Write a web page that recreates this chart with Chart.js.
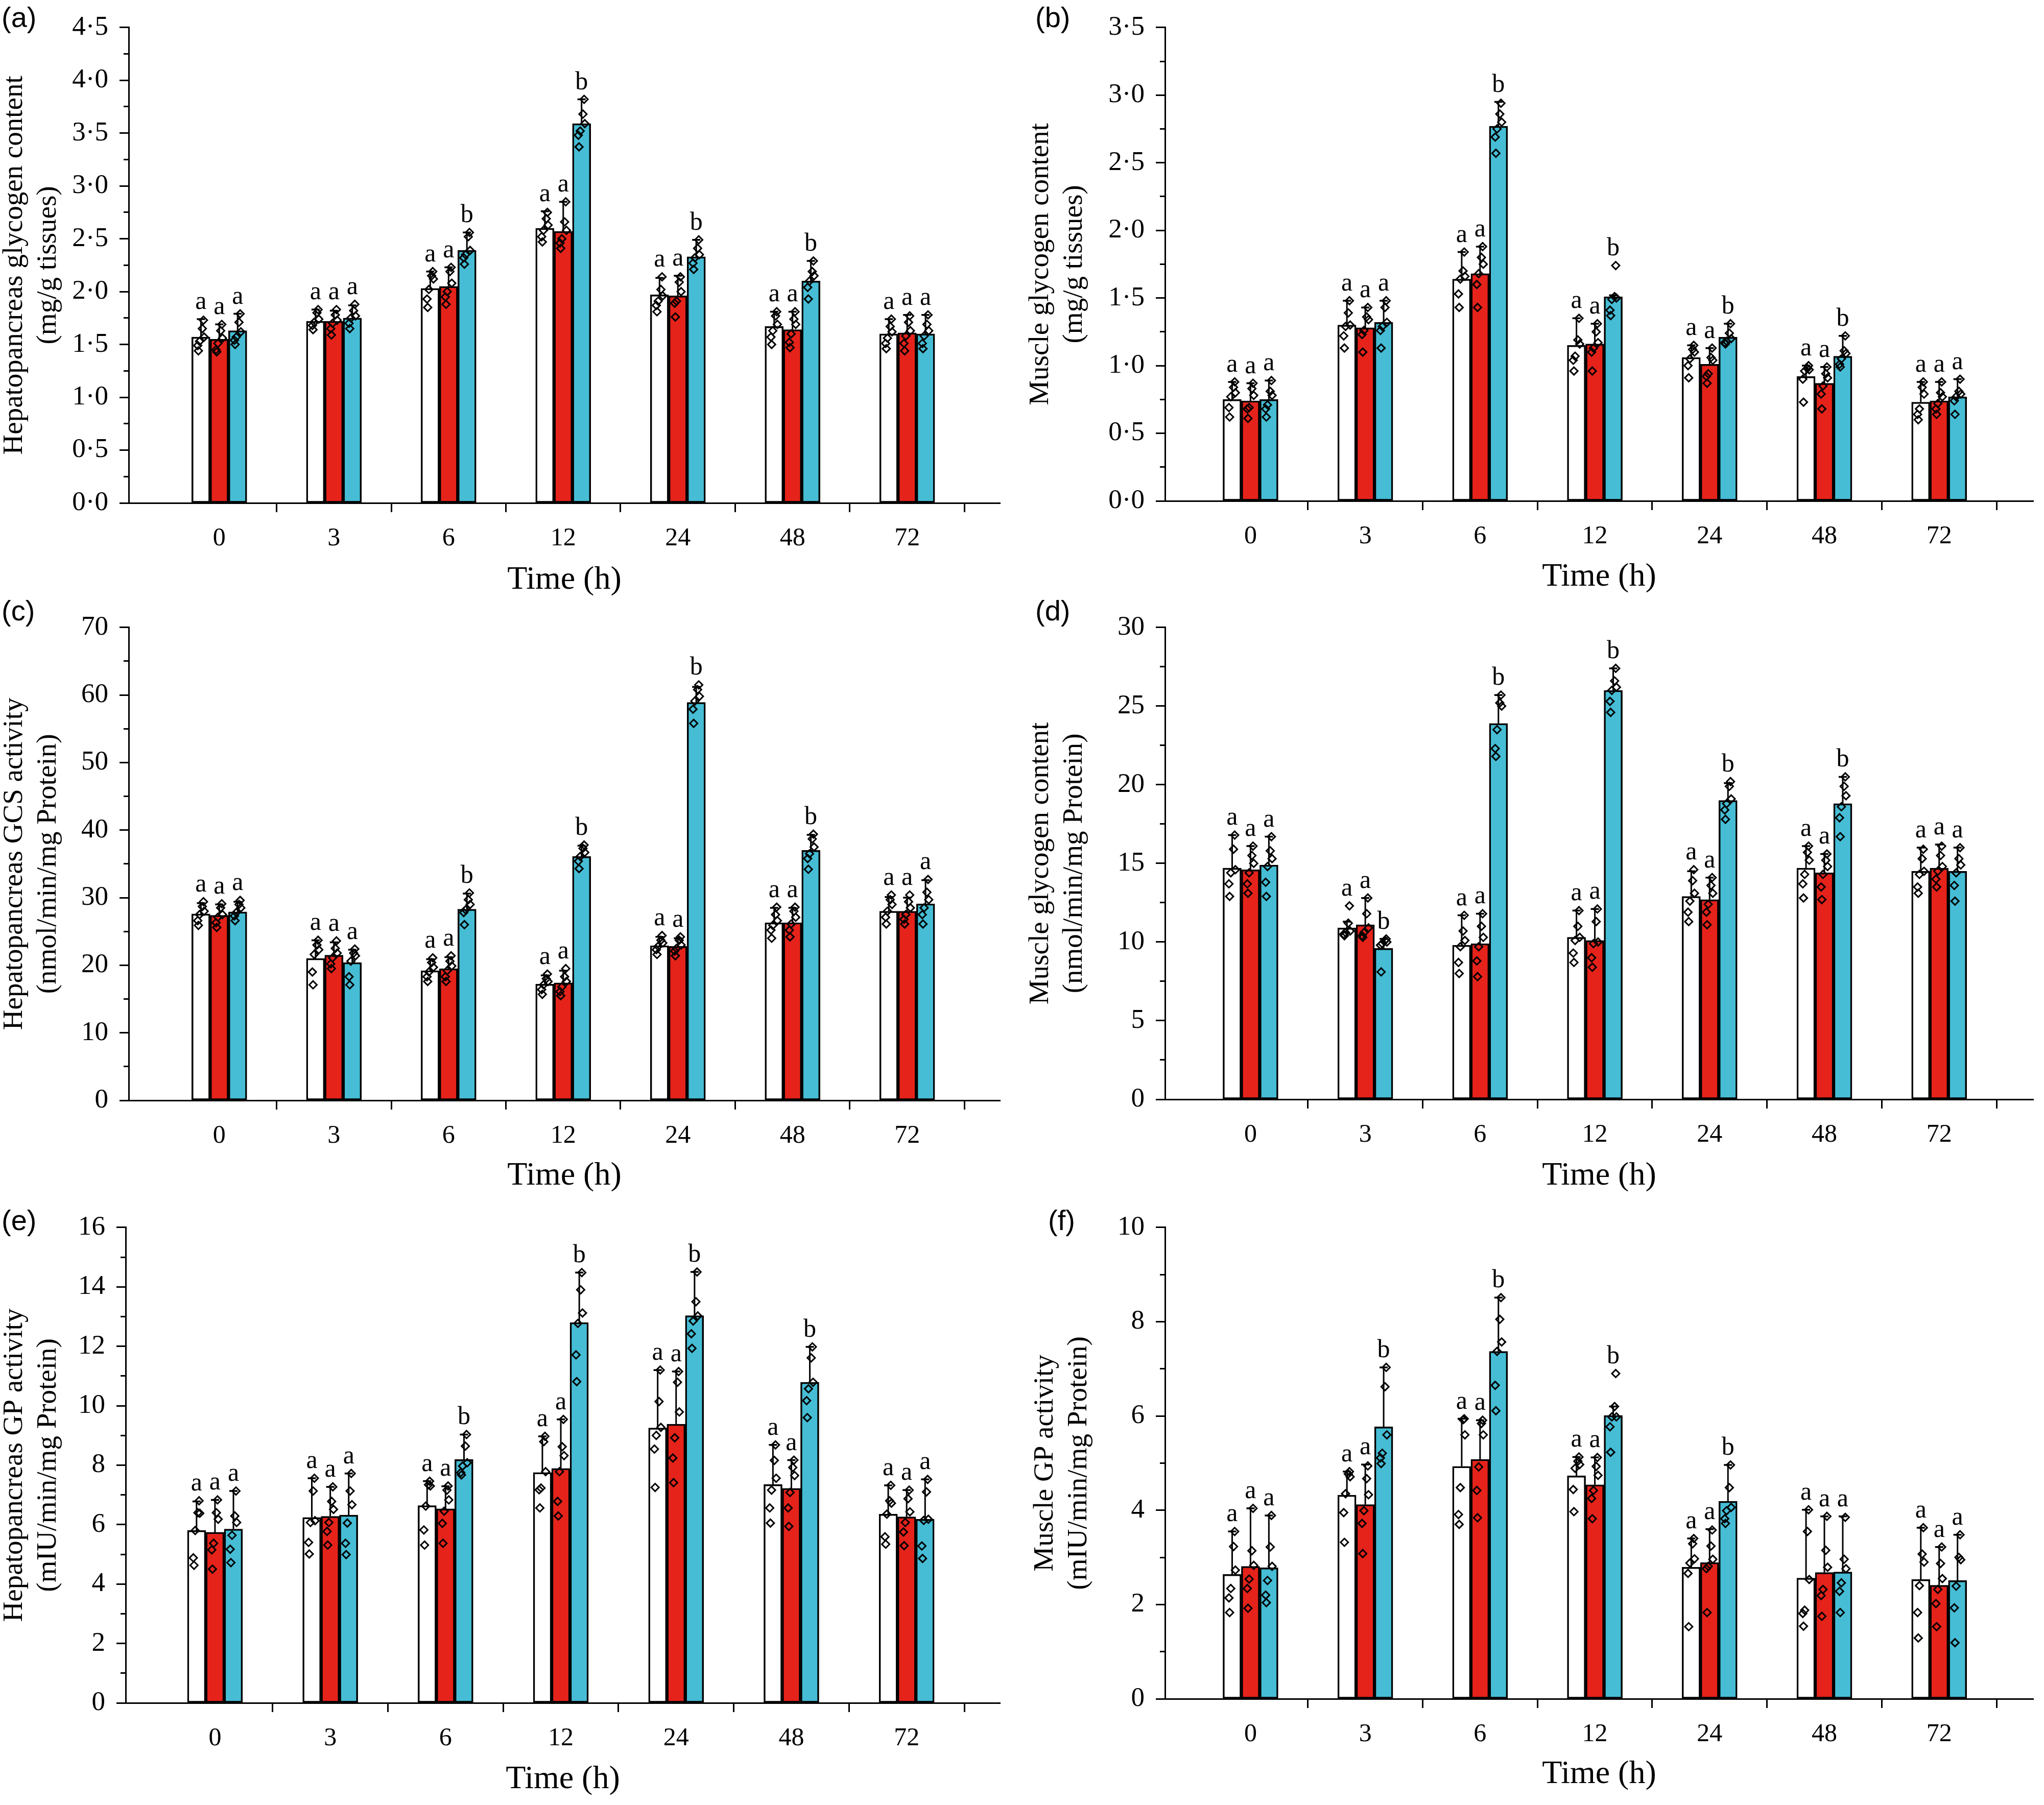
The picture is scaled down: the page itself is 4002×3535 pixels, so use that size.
<!DOCTYPE html>
<html>
<head>
<meta charset="utf-8">
<script src="https://cdn.jsdelivr.net/npm/chart.js@4"></script>
<style>
  body { margin: 0; background: #fff; }
  #wrap { position: relative; width: 4002px; height: 3535px; background: #fff; }
  canvas { position: absolute; }
  .tag { position: absolute; font-family: "Liberation Sans", Arial, sans-serif; font-size: 56px; line-height: 1; color: #000; }
</style>
</head>
<body>
<div id="wrap">
  <canvas id="cA" width="2000" height="1175" style="left:0;top:0"></canvas>
  <canvas id="cB" width="2002" height="1175" style="left:2000px;top:0"></canvas>
  <canvas id="cC" width="2000" height="1175" style="left:0;top:1175px"></canvas>
  <canvas id="cD" width="2002" height="1175" style="left:2000px;top:1175px"></canvas>
  <canvas id="cE" width="2000" height="1185" style="left:0;top:2350px"></canvas>
  <canvas id="cF" width="2002" height="1185" style="left:2000px;top:2350px"></canvas>
  <div class="tag" style="left:3px;top:6px">(a)</div>
  <div class="tag" style="left:2027px;top:6px">(b)</div>
  <div class="tag" style="left:3px;top:1168px">(c)</div>
  <div class="tag" style="left:2027px;top:1168px">(d)</div>
  <div class="tag" style="left:3px;top:2362px">(e)</div>
  <div class="tag" style="left:2052px;top:2362px">(f)</div>
</div>
<script>
const times = ['0', '3', '6', '12', '24', '48', '72'];
const seriesColors = ['#ffffff', '#e5231b', '#46bdd5'];

// (a) hepatopancreas glycogen, mg/g
const aMean = [[1.57, 1.72, 2.03, 2.60, 1.97, 1.67, 1.60],
               [1.55, 1.72, 2.05, 2.57, 1.96, 1.64, 1.61],
               [1.63, 1.75, 2.39, 3.59, 2.33, 2.10, 1.60]];
const aUpper = [[1.74, 1.83, 2.19, 2.76, 2.13, 1.81, 1.74],
                [1.69, 1.82, 2.23, 2.85, 2.15, 1.81, 1.78],
                [1.79, 1.87, 2.56, 3.82, 2.49, 2.29, 1.78]];
const aWhitePts = [[1.73,1.44,1.65,1.49,1.57,1.53],[1.83,1.64,1.80,1.68,1.74,1.71],[2.19,1.85,2.15,1.93,2.12,2.02],
                   [2.75,2.47,2.69,2.52,2.63,2.58],[2.14,1.81,2.02,1.87,1.96,1.91],[1.81,1.50,1.77,1.57,1.69,1.63],[1.74,1.46,1.67,1.51,1.62,1.56]];
const aRedPts = [[1.69,1.43,1.63,1.45,1.56,1.51],[1.83,1.59,1.78,1.65,1.73,1.70],[2.23,1.88,2.19,1.95,2.08,2.00],
                 [2.85,2.41,2.66,2.46,2.58,2.50],[2.14,1.76,2.09,1.89,2.00,1.91],[1.81,1.47,1.74,1.52,1.69,1.60],[1.77,1.44,1.71,1.51,1.63,1.58]];
const aBluePts = [[1.79,1.50,1.71,1.54,1.62,1.57],[1.88,1.65,1.82,1.70,1.77,1.75],[2.56,2.26,2.52,2.32,2.39,2.35],
                  [3.82,3.37,3.68,3.48,3.59,3.52],[2.49,2.21,2.41,2.27,2.35,2.32],[2.29,1.93,2.19,2.04,2.15,2.10],[1.78,1.46,1.69,1.51,1.63,1.58]];
const aLetters = [['a','a','a','a','a','a','a'], ['a','a','a','a','a','a','a'], ['a','a','b','b','b','b','a']];

// (b) muscle glycogen, mg/g
const bMean = [[0.75, 1.30, 1.64, 1.15, 1.06, 0.92, 0.73],
               [0.74, 1.28, 1.68, 1.16, 1.01, 0.87, 0.74],
               [0.75, 1.32, 2.77, 1.51, 1.21, 1.07, 0.77]];
const bUpper = [[0.88, 1.48, 1.84, 1.35, 1.15, 1.00, 0.88],
                [0.87, 1.43, 1.88, 1.31, 1.13, 0.99, 0.88],
                [0.89, 1.48, 2.95, 1.52, 1.31, 1.22, 0.90]];
const bWhitePts = [[0.88,0.62,0.84,0.69,0.80,0.77],[1.48,1.13,1.39,1.22,1.30,1.29],[1.84,1.43,1.70,1.53,1.66,1.64],
                   [1.35,0.96,1.19,1.04,1.16,1.07],[1.15,0.91,1.12,1.00,1.10,1.05],[1.00,0.73,0.98,0.90,0.97,0.96],[0.88,0.60,0.84,0.64,0.79,0.68]];
const bRedPts = [[0.87,0.61,0.83,0.68,0.78,0.69],[1.43,1.10,1.36,1.23,1.34,1.26],[1.88,1.43,1.80,1.60,1.75,1.68],
                 [1.31,0.96,1.25,1.10,1.17,1.13],[1.13,0.87,1.06,0.92,1.04,0.94],[0.99,0.68,0.94,0.79,0.91,0.85],[0.88,0.64,0.80,0.68,0.77,0.72]];
const bBluePts = [[0.89,0.62,0.81,0.68,0.78,0.71],[1.48,1.13,1.43,1.26,1.32,1.29],[2.94,2.57,2.86,2.69,2.80,2.75],
                  [1.74,1.37,1.51,1.41,1.50,1.49],[1.31,1.16,1.24,1.17,1.20,1.18],[1.22,0.99,1.11,1.01,1.09,1.05],[0.90,0.64,0.81,0.74,0.79,0.77]];
const bLetters = [['a','a','a','a','a','a','a'], ['a','a','a','a','a','a','a'], ['a','a','b','b','b','b','a']];

// (c) hepatopancreas GCS activity
const cMean = [[27.6, 21.0, 19.2, 17.2, 22.9, 26.3, 28.0],
               [27.4, 21.5, 19.5, 17.4, 22.8, 26.3, 28.0],
               [27.9, 20.4, 28.3, 36.1, 58.9, 37.0, 29.1]];
const cUpper = [[29.2, 23.7, 20.9, 18.5, 24.2, 28.5, 30.1],
                [29.0, 23.4, 21.2, 19.2, 24.0, 28.5, 30.0],
                [29.4, 22.3, 30.6, 37.7, 61.2, 39.3, 32.6]];
const cWhitePts = [[29.4,25.9,28.7,26.6,28.0,27.5],[23.7,17.1,23.0,19.0,22.3,21.6],[21.1,17.6,20.4,18.3,19.7,19.0],
                   [18.7,15.7,18.0,16.4,17.6,17.1],[24.4,21.6,23.7,22.3,23.3,22.8],[28.6,24.0,27.5,25.2,26.6,25.9],[30.4,26.1,29.7,27.1,29.0,28.0]];
const cRedPts = [[29.1,25.6,28.5,26.3,27.5,27.1],[23.6,19.5,22.5,20.2,21.8,21.1],[21.4,17.6,20.6,18.3,19.9,19.2],
                 [19.5,15.5,18.3,16.1,17.6,16.8],[24.2,21.4,23.7,22.1,23.0,22.5],[28.6,24.2,28.0,25.2,27.1,26.1],[30.4,26.1,29.4,26.8,28.5,27.5]];
const cBluePts = [[29.6,26.6,29.0,27.3,28.5,27.8],[22.4,17.1,21.8,18.3,21.4,20.6],[30.7,26.0,29.7,27.8,29.0,28.2],
                  [37.8,34.3,37.3,35.4,36.7,36.1],[61.5,55.8,60.8,57.9,59.8,59.1],[39.4,34.2,38.7,35.8,37.5,36.5],[32.7,26.1,30.8,27.5,29.7,28.5]];
const cLetters = [['a','a','a','a','a','a','a'], ['a','a','a','a','a','a','a'], ['a','a','b','b','b','b','a']];

// (d) muscle activity, nmol/min/mg protein
const dMean = [[14.7, 10.9, 9.8, 10.3, 12.9, 14.7, 14.5],
               [14.6, 11.1, 9.9, 10.1, 12.7, 14.4, 14.7],
               [14.9, 9.6, 23.9, 26.0, 19.0, 18.8, 14.5]];
const dUpper = [[16.8, 11.3, 11.7, 12.0, 14.5, 16.1, 16.0],
                [16.1, 12.8, 11.8, 12.1, 14.1, 15.6, 16.2],
                [16.7, 10.2, 25.7, 27.4, 20.1, 20.5, 16.0]];
const dWhitePts = [[16.8,12.9,15.9,13.7,14.6,14.4],[12.3,10.4,11.2,10.5,10.7,10.6],[11.7,8.0,10.7,8.7,10.1,9.7],
                   [12.0,8.7,11.0,9.3,10.3,10.1],[14.6,11.3,13.9,11.9,13.1,12.6],[16.1,12.8,15.7,13.7,15.2,14.3],[15.9,13.1,15.3,13.5,14.5,14.3]];
const dRedPts = [[16.1,13.1,15.5,13.7,15.0,14.4],[12.8,10.3,11.8,10.4,10.9,10.6],[11.8,7.8,11.0,8.8,10.3,9.7],
                 [12.1,8.4,11.3,9.0,10.0,9.9],[14.1,11.1,13.6,11.9,13.1,12.4],[15.6,12.7,15.2,13.5,14.8,14.3],[16.1,13.5,15.5,14.0,14.8,14.5]];
const dBluePts = [[16.7,12.9,15.8,13.8,15.3,14.8],[10.2,8.1,10.1,9.8,10.0,9.9],[25.7,21.8,25.2,22.3,25.0,23.5],
                  [27.4,24.6,26.6,25.3,26.2,26.0],[20.2,17.8,19.9,18.4,19.1,18.8],[20.5,16.7,19.9,17.9,19.3,18.6],[16.0,12.6,15.3,13.6,14.9,14.4]];
const dLetters = [['a','a','a','a','a','a','a'], ['a','a','a','a','a','a','a'], ['a','b','b','b','b','b','a']];

// (e) hepatopancreas GP activity, mIU/min/mg protein
const eMean = [[5.80, 6.24, 6.64, 7.75, 9.25, 7.35, 6.35],
               [5.74, 6.28, 6.53, 7.89, 9.38, 7.22, 6.26],
               [5.85, 6.32, 8.19, 12.80, 13.03, 10.79, 6.18]];
const eUpper = [[6.78, 7.56, 7.46, 8.97, 11.20, 8.68, 7.32],
                [6.83, 7.27, 7.29, 9.54, 11.15, 8.17, 7.16],
                [7.13, 7.72, 9.03, 14.48, 14.50, 11.98, 7.52]];
const eWhitePts = [[6.80,4.63,6.40,4.88,6.38,5.80],[7.56,5.01,7.13,5.40,6.13,6.07],[7.46,5.31,7.34,5.82,7.30,6.62],
                   [8.97,6.56,8.79,7.17,7.78,7.23],[11.20,7.25,10.14,8.54,9.27,9.00],[8.68,6.05,8.16,6.56,7.56,7.16],[7.32,5.34,6.80,5.59,6.72,6.35]];
const eRedPts = [[6.83,4.50,6.40,5.15,6.18,5.37],[7.27,5.31,6.78,5.77,6.51,6.07],[7.30,5.37,7.16,6.04,6.83,6.45],
                 [9.54,6.29,8.62,6.78,8.32,7.78],[11.15,7.41,10.79,8.24,9.79,8.92],[8.17,5.94,7.92,6.56,7.65,7.08],[7.16,5.29,6.87,5.75,6.43,6.07]];
const eBluePts = [[7.13,4.72,6.29,5.17,6.07,5.64],[7.72,4.99,7.13,5.37,6.67,6.05],[9.03,7.67,8.64,7.75,8.08,7.97],
                  [14.48,10.81,13.90,11.71,13.12,12.77],[14.50,11.93,13.50,12.42,13.02,12.85],[11.98,9.60,11.61,10.17,10.79,10.57],[7.52,4.86,7.10,5.28,6.18,6.14]];
const eLetters = [['a','a','a','a','a','a','a'], ['a','a','a','a','a','a','a'], ['a','a','b','b','b','b','a']];

// (f) muscle GP activity, mIU/min/mg protein
const fMean = [[2.64, 4.32, 4.93, 4.73, 2.79, 2.56, 2.53],
               [2.81, 4.12, 5.08, 4.54, 2.89, 2.68, 2.41],
               [2.78, 5.77, 7.37, 6.01, 4.19, 2.69, 2.51]];
const fUpper = [[3.55, 4.82, 5.94, 5.13, 3.40, 4.01, 3.63],
                [4.04, 4.97, 5.91, 5.12, 3.60, 3.87, 3.22],
                [3.89, 7.03, 8.51, 6.20, 4.96, 3.87, 3.48]];
const fWhitePts = [[3.55,1.83,3.23,2.14,2.73,2.34],[4.82,3.32,4.77,3.95,4.71,4.35],[5.94,3.70,5.92,3.91,5.60,4.48],
                   [5.13,3.97,5.04,4.44,4.97,4.89],[3.40,1.53,3.29,2.66,2.97,2.88],[4.01,1.54,3.55,1.81,2.53,1.88],[3.63,1.29,3.07,1.83,2.90,2.40]];
const fRedPts = [[4.04,1.92,3.14,2.34,2.83,2.54],[4.94,3.08,4.67,3.72,4.33,3.99],[5.91,3.84,5.84,4.42,5.60,4.92],
                 [5.12,3.82,4.93,4.25,4.74,4.42],[3.58,1.83,3.24,2.76,2.96,2.81],[3.87,1.75,3.15,2.19,2.79,2.32],[3.22,1.53,2.87,2.02,2.55,2.32]];
const fBluePts = [[3.89,2.04,3.22,2.20,2.81,2.51],[7.03,4.99,6.62,5.11,5.60,5.21],[8.51,6.11,8.05,6.65,7.57,7.37],
                  [6.90,5.23,6.20,5.77,5.98,5.98],[4.96,3.72,4.48,3.82,4.06,3.99],[3.85,1.83,2.96,2.28,2.76,2.46],[3.48,1.19,3.00,1.93,2.95,2.39]];
const fLetters = [['a','a','a','a','a','a','a'], ['a','a','a','a','a','a','a'], ['a','b','b','b','b','a','a']];

const serif = "'Liberation Serif', 'Times New Roman', serif";
Chart.defaults.font.family = serif;
Chart.defaults.color = '#000';

const barOffset = 0.16;   // one bar width in x units (36px)
const jitter = [0.022, -0.022, 0.012, -0.028, 0.028, -0.012];
const xTickValues = [0, 0.5, 1, 1.5, 2, 2.5, 3, 3.5, 4, 4.5, 5, 5.5, 6, 6.5];

function letterPlugin(p) {
    return {
        id: 'letters',
        afterDatasetsDraw(chart) {
            const ctx = chart.ctx;
            const xs = chart.scales.x, ys = chart.scales.y;
            ctx.save();
            ctx.font = '50px ' + serif;
            ctx.fillStyle = '#000';
            ctx.textAlign = 'center';
            ctx.textBaseline = 'alphabetic';
            p.letters.forEach((row, k) => {
                row.forEach((txt, i) => {
                    const top = Math.max(p.upper[k][i], ...p.pts[k][i]);
                    const px = xs.getPixelForValue(i + (k - 1) * barOffset);
                    const py = ys.getPixelForValue(top) - 20;
                    ctx.fillText(txt, px, py);
                });
            });
            ctx.restore();
        }
    };
}

function buildPanel(id, p) {
    const datasets = [];
    p.mean.forEach((m, k) => {
        datasets.push({
            type: 'bar', xAxisID: 'x', yAxisID: 'y',
            data: m.map((v, i) => ({ x: i, y: v })),
            backgroundColor: seriesColors[k], borderColor: '#000', borderWidth: 3.5,
            borderSkipped: false, barThickness: 36, order: 3
        });
    });
    p.upper.forEach((u, k) => {
        const seg = [];
        u.forEach((v, i) => {
            const x = i + (k - 1) * barOffset;
            seg.push({ x: x, y: p.mean[k][i] }, { x: x, y: v }, { x: x, y: null });
        });
        datasets.push({
            type: 'line', xAxisID: 'x', yAxisID: 'y', data: seg,
            borderColor: '#000', borderWidth: 3, pointRadius: 0, spanGaps: false, order: 2
        });
        datasets.push({
            type: 'scatter', xAxisID: 'x', yAxisID: 'y',
            data: u.map((v, i) => ({ x: i + (k - 1) * barOffset, y: v })),
            pointStyle: 'line', pointRadius: 8, borderColor: '#000', pointBorderWidth: 3.5, order: 2
        });
    });
    p.pts.forEach((ser, k) => {
        const d = [];
        ser.forEach((vals, i) => vals.forEach((v, j) => d.push({ x: i + (k - 1) * barOffset + jitter[j], y: v })));
        datasets.push({
            type: 'scatter', xAxisID: 'x', yAxisID: 'y', data: d,
            pointStyle: 'rectRot', pointRadius: 7.5, pointBorderWidth: 3,
            borderColor: '#000', backgroundColor: 'rgba(0,0,0,0)', order: 1
        });
    });

    new Chart(document.getElementById(id), {
        type: 'bar',
        data: { datasets: datasets },
        plugins: [letterPlugin(p)],
        options: {
            responsive: false,
            animation: false,
            devicePixelRatio: 1,
            layout: { padding: p.pad },
            plugins: { legend: { display: false }, tooltip: { enabled: false } },
            scales: {
                y: {
                    type: 'linear', position: 'left', weight: 1,
                    min: 0, max: p.yMax,
                    afterFit: (axis) => { axis.width = p.yW; },
                    border: { display: true, color: '#000', width: 3 },
                    grid: { drawOnChartArea: false, drawTicks: true, tickLength: 18, tickWidth: 3, tickColor: '#000' },
                    ticks: {
                        stepSize: p.yStep, padding: 22, font: { family: serif, size: 53 },
                        callback: (v) => p.dot ? v.toFixed(1).replace('.', '\u00B7') : String(v)
                    },
                    title: { display: true, text: p.yTitle, font: { family: serif, size: 55, lineHeight: 1.2 }, padding: { top: -4, bottom: 0 } }
                },
                ym: {
                    type: 'linear', position: 'left', weight: 0,
                    min: 0, max: p.yMax,
                    afterFit: (axis) => { axis.width = 0; },
                    border: { display: false },
                    grid: { drawOnChartArea: false, drawTicks: true, tickLength: 10, tickWidth: 3, tickColor: '#000' },
                    ticks: { stepSize: p.yMinor, display: false }
                },
                x: {
                    type: 'linear', position: 'bottom', offset: false,
                    min: p.xMin, max: p.xMax,
                    afterFit: (axis) => { axis.height = p.xH; },
                    afterBuildTicks: (axis) => { axis.ticks = xTickValues.map(v => ({ value: v })); },
                    border: { display: true, color: '#000', width: 3 },
                    grid: {
                        offset: false, drawOnChartArea: false, drawTicks: true, tickLength: 18, tickWidth: 3,
                        tickColor: (c) => Number.isInteger(c.tick.value) ? 'rgba(0,0,0,0)' : '#000'
                    },
                    ticks: {
                        autoSkip: false, maxRotation: 0, minRotation: 0, padding: 22, font: { family: serif, size: 50 },
                        callback: (v) => Number.isInteger(v) ? times[v] : ''
                    },
                    title: { display: true, text: 'Time (h)', font: { family: serif, size: 64, lineHeight: 1.2 }, padding: { top: 0, bottom: 0 } }
                }
            }
        }
    });
}

buildPanel('cA', {
    mean: aMean, upper: aUpper, pts: [aWhitePts, aRedPts, aBluePts], letters: aLetters,
    yMax: 4.5, yStep: 0.5, yMinor: 0.25, dot: true,
    yTitle: ['Hepatopancreas glycogen content', '(mg/g tissues)'],
    pad: { left: 0, top: 44, right: 42, bottom: 0 }, yW: 252, xH: 190, xMin: -0.79, xMax: 6.81
});
buildPanel('cB', {
    mean: bMean, upper: bUpper, pts: [bWhitePts, bRedPts, bBluePts], letters: bLetters,
    yMax: 3.5, yStep: 0.5, yMinor: 0.25, dot: true,
    yTitle: ['Muscle glycogen content', '(mg/g tissues)'],
    pad: { left: 9, top: 40, right: 21, bottom: 6 }, yW: 272, xH: 188, xMin: -0.745, xMax: 6.82
});
buildPanel('cC', {
    mean: cMean, upper: cUpper, pts: [cWhitePts, cRedPts, cBluePts], letters: cLetters,
    yMax: 70, yStep: 10, yMinor: 5, dot: false,
    yTitle: ['Hepatopancreas GCS activity', '(nmol/min/mg Protein)'],
    pad: { left: 0, top: 40, right: 42, bottom: 8 }, yW: 252, xH: 187, xMin: -0.79, xMax: 6.81
});
buildPanel('cD', {
    mean: dMean, upper: dUpper, pts: [dWhitePts, dRedPts, dBluePts], letters: dLetters,
    yMax: 30, yStep: 5, yMinor: 2.5, dot: false,
    yTitle: ['Muscle glycogen content', '(nmol/min/mg Protein)'],
    pad: { left: 9, top: 40, right: 21, bottom: 8 }, yW: 272, xH: 189, xMin: -0.745, xMax: 6.82
});
buildPanel('cE', {
    mean: eMean, upper: eUpper, pts: [eWhitePts, eRedPts, eBluePts], letters: eLetters,
    yMax: 16, yStep: 2, yMinor: 1, dot: false,
    yTitle: ['Hepatopancreas GP activity', '(mIU/min/mg Protein)'],
    pad: { left: 0, top: 45, right: 42, bottom: 11 }, yW: 246, xH: 189, xMin: -0.775, xMax: 6.81
});
buildPanel('cF', {
    mean: fMean, upper: fUpper, pts: [fWhitePts, fRedPts, fBluePts], letters: fLetters,
    yMax: 10, yStep: 2, yMinor: 1, dot: false,
    yTitle: ['Muscle GP activity', '(mIU/min/mg Protein)'],
    pad: { left: 18, top: 38, right: 21, bottom: 21 }, yW: 263, xH: 187, xMin: -0.745, xMax: 6.82
});
</script>
</body>
</html>
